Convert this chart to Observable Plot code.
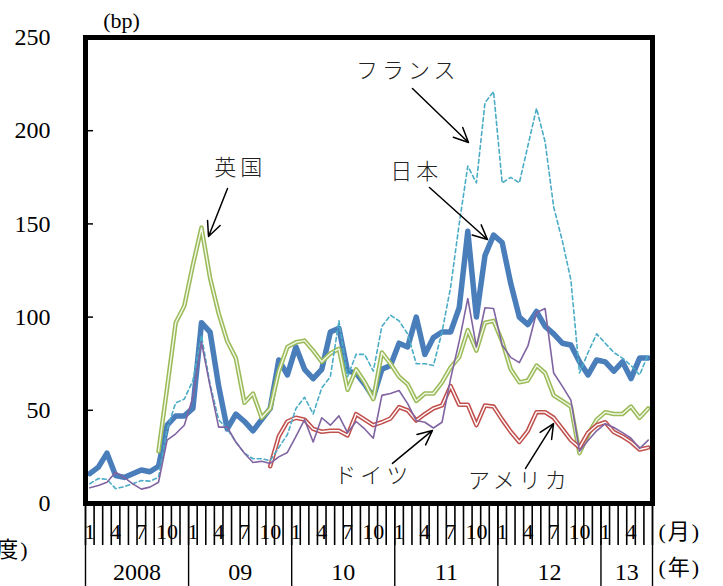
<!DOCTYPE html>
<html><head><meta charset="utf-8">
<script src="https://cdn.jsdelivr.net/npm/d3@7"></script>
<script src="https://cdn.jsdelivr.net/npm/@observablehq/plot@0.6"></script>
<style>
html,body{margin:0;padding:0;background:#fff;}
#chart{width:723px;height:586px;overflow:hidden;}
#chart svg text:not(.jp){font-family:"Liberation Serif","Times New Roman","DejaVu Serif","Noto Sans CJK JP",serif !important;}
#chart svg text.jp{font-family:"Noto Sans CJK JP",sans-serif !important;}
</style></head><body><div id="chart"></div>
<script>
// ---- data (monthly, Jan 2008 .. Jun 2013, index 0..65) ----
const years = ["2008", "09", "10", "11", "12", "13"];
const monthTickLabels = ["1", "4", "7", "10"];
const yTicks = [0, 50, 100, 150, 200, 250];

const japan = [16, 19.5, 27, 15, 14, 16, 18, 17, 20, 42, 47, 47,
  51, 97, 92, 63, 40, 48, 44, 39, 45, 51, 77, 69,
  84, 72, 67, 72, 92, 94, 71, 70, 64, 57, 72, 74,
  86, 84, 100, 80, 89, 92, 92, 105, 146, 100, 133, 144,
  140, 118, 100, 96, 103, 95, 91, 86, 85, 76, 69, 77,
  76, 71, 76, 67, 78, 78];
const france = [10.6, 13.4, 13, 8, 9, 10.6, 12.3, 12, 14, 40, 54, 56,
  66, 90, 64, 45, 40, 33, 27, 24, 24, 23, 30, 37,
  51, 57, 48, 62, 68, 98, 68, 80, 80, 71, 95, 101,
  98, 91, 75, 75, 74, 92, 116, 150, 181, 172, 215, 221,
  172, 175, 172, 192, 212, 194, 159, 141, 120, 70, 81, 91,
  86, 81, 78, 74, 69, 80];
const ukStart = 8; // Sep 2008
const uk = [28, 62, 97, 106,
  128, 148, 121, 102, 87, 78, 54, 59, 46, 51, 71, 84,
  86.5, 87.4, 82, 76, 80.5, 83, 61, 72, 65, 56, 81, 75,
  68, 64, 55, 59, 59, 65, 73, 78.5, 93, 82, 97, 98,
  87, 72, 65, 66, 74, 70, 58, 55, 52, 27, 37, 45,
  49, 48, 48, 52, 46, 51];
const redStart = 21; // Oct 2009
const red = [20, 36, 44,
  46, 45, 40, 38.5, 39, 39, 36.5, 48, 45, 42, 43.6, 45.6,
  51.7, 50, 44.5, 48, 51, 52.6, 63, 53, 53, 42, 52.6, 52,
  45, 38.5, 33, 39, 49, 49, 46, 40, 34, 30, 38, 42,
  43.6, 38.3, 36, 33, 29, 30];
const purple = [8.4, 9.7, 11.4, 16.8, 14, 10.5, 7.7, 8.8, 11.4, 34, 37.4, 42,
  57, 86.5, 63, 41, 41, 33, 27, 22, 22.7, 21.5, 25, 27.4,
  36, 45, 33, 46, 42, 47, 38, 44, 40, 35, 58, 59,
  60.6, 53.6, 44.5, 43.6, 40.5, 43.6, 67, 87, 110, 84, 105, 104.6,
  85, 78.4, 75.6, 84.5, 102.5, 104.6, 70, 63, 55.5, 28, 33.8, 39,
  42.8, 40.8, 38, 35, 29.5, 34];

// annotations (month index, bp)
const annLabels = ["フランス", "日本", "英国", "ドイツ", "アメリカ"];
const annX = [37, 38, 17.5, 33, 50];
const annY = [232, 178, 180, 15, 12];
const arrX1 = [37.56, 39.54, 16.03, 35.23, 50.72];
const arrY1 = [222.6, 169.5, 169, 21.5, 18.8];
const arrX2 = [44.08, 46.29, 13.82, 39.89, 53.98];
const arrY2 = [193.7, 141.6, 143.2, 39.2, 42.9];

// ---- build tables ----
const nMonths = japan.length;
const toRows = (vals, start = 0) => vals.map((v, k) => ({i: k + start, v}));
const rJapan = toRows(japan), rFrance = toRows(france), rUK = toRows(uk, ukStart),
      rRed = toRows(red, redStart), rPurple = toRows(purple);
const annots = annLabels.map((t, k) => ({t, x: annX[k], y: annY[k]}));
const arrows = annLabels.map((t, k) => ({x1: arrX1[k], y1: arrY1[k], x2: arrX2[k], y2: arrY2[k]}));

const monthBounds = d3.range(nMonths + 1).map(k => k - 0.5);
const labelPos = d3.range(nMonths).filter(k => k % 3 === 0);
const yearBounds = d3.range(0, nMonths, 12).map(k => k - 0.5).concat([nMonths - 0.5]);
const yearCenters = years.map((y, k) => (k * 12 - 0.5 + Math.min(k * 12 + 12, nMonths) - 0.5) / 2);

const serif = "Liberation Serif, serif";
const jp = "Noto Sans CJK JP, sans-serif";

const plot = Plot.plot({
  width: 723, height: 586,
  marginLeft: 85, marginRight: 71, marginTop: 37, marginBottom: 83,
  style: {background: "white", overflow: "visible", color: "black"},
  x: {domain: [-0.5, nMonths - 0.5]},
  y: {domain: [0, 250]},
  marks: [
    Plot.axisY({ticks: yTicks, tickSize: 0, tickPadding: 35, fontSize: 24, label: null, tickFormat: d => String(d)}),
    Plot.ruleY(yTicks.slice(1, -1), {x1: -0.5, x2: 0.43, stroke: "black", strokeWidth: 1.5}),
    Plot.axisX({ticks: monthBounds, tickSize: 42, tickFormat: () => "", label: null, strokeWidth: 1.6}),
    Plot.axisX({ticks: labelPos, tickSize: 0, tickPadding: 20, fontSize: 22, label: null,
      tickFormat: k => monthTickLabels[(k % 12) / 3]}),
    Plot.axisX({ticks: yearBounds, tickSize: 83, tickFormat: () => "", label: null, strokeWidth: 1.4}),
    Plot.axisX({ticks: yearCenters, tickSize: 0, tickPadding: 59, fontSize: 24, label: null,
      tickFormat: (d, k) => years[k]}),
    // series
    Plot.line(rJapan, {x: "i", y: "v", stroke: "#4a7ebb", strokeWidth: 5.5}),
    Plot.line(rUK, {x: "i", y: "v", stroke: "#9bbb59", strokeWidth: 4.5}),
    Plot.line(rUK, {x: "i", y: "v", stroke: "#f4f8ea", strokeWidth: 1.4}),
    Plot.line(rRed, {x: "i", y: "v", stroke: "#c0504d", strokeWidth: 4.5}),
    Plot.line(rRed, {x: "i", y: "v", stroke: "white", strokeWidth: 1.4}),
    Plot.line(rFrance, {x: "i", y: "v", stroke: "#4bacc6", strokeWidth: 1.6, strokeDasharray: "4,3"}),
    Plot.line(rPurple, {x: "i", y: "v", stroke: "#8064a2", strokeWidth: 1.6}),
    Plot.frame({stroke: "black", strokeWidth: 5}),
    // annotations
    Plot.arrow(arrows, {x1: "x1", y1: "y1", x2: "x2", y2: "y2", stroke: "black", strokeWidth: 1.5, headLength: 16, headAngle: 50}),
    Plot.text(annots, {x: "x", y: "y", text: "t", fontSize: 22, fontFamily: jp, fontWeight: 300, fill: "#222"}),
    Plot.text(["(bp)"], {frameAnchor: "top-left", textAnchor: "middle", lineAnchor: "middle", dx: 36, dy: -17, fontSize: 22}),
    Plot.text(["(月)"], {frameAnchor: "bottom-right", textAnchor: "start", lineAnchor: "middle", dx: 6, dy: 28, fontSize: 22}),
    Plot.text(["(年)"], {frameAnchor: "bottom-right", textAnchor: "start", lineAnchor: "middle", dx: 6, dy: 64, fontSize: 22}),
    Plot.text(["(年度)"], {frameAnchor: "bottom-left", textAnchor: "end", lineAnchor: "middle", dx: -56, dy: 46, fontSize: 22})
  ]
});
d3.select(plot).selectAll("text").filter(function () { return annLabels.includes(this.textContent); })
  .classed("jp", true).style("letter-spacing", "4px");
d3.select(plot).selectAll("text").filter(function () { return ["(月)", "(年)", "(年度)"].includes(this.textContent); })
  .style("letter-spacing", "2px");
document.getElementById("chart").appendChild(plot);
</script></body></html>
